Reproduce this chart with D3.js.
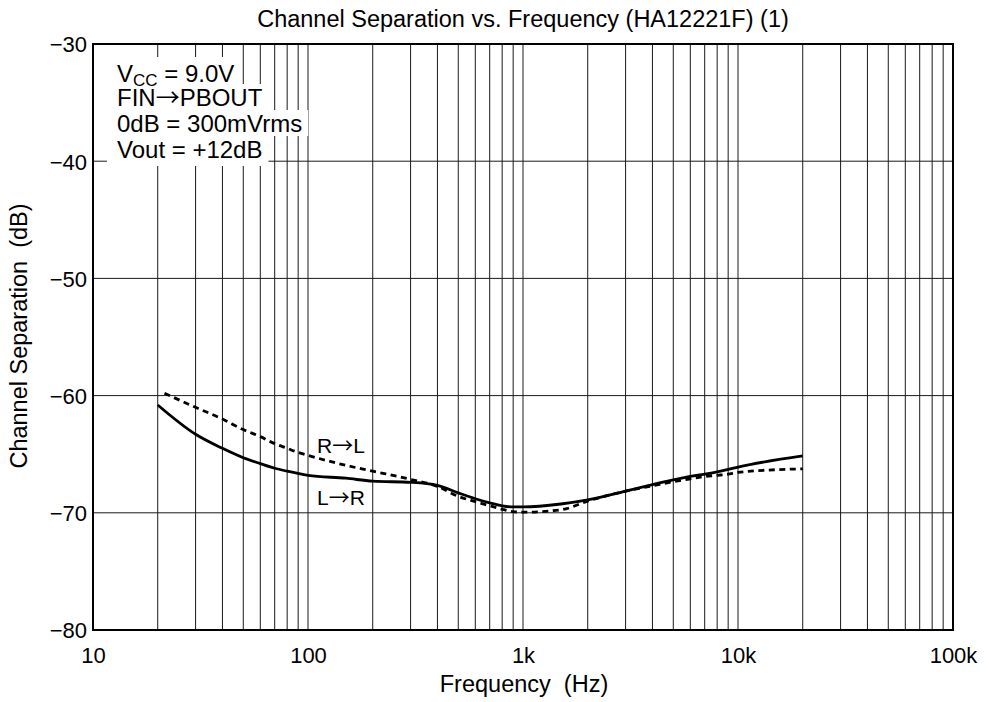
<!DOCTYPE html>
<html>
<head>
<meta charset="utf-8">
<script src="https://cdn.jsdelivr.net/npm/d3@7"></script>
<style>
  html, body { margin: 0; padding: 0; background: #fff; }
  svg { display: block; font-family: "Liberation Sans", Arial, Helvetica, sans-serif; }
  text { white-space: pre; }
  .arrow { font-family: "Noto Sans CJK JP", "DejaVu Sans", sans-serif; }
</style>
</head>
<body>
<svg id="chart" width="989" height="702"></svg>
<script>
// ---- data ----
const lrFreq = [20, 30, 40, 50, 60, 70, 80, 100, 150, 200, 300, 400, 500, 600, 700, 800, 900, 1000, 1500, 2000, 3000, 4000, 5000, 6000, 7000, 8000, 9000, 10000, 20000];
const lrValues = [-60.8, -63.3, -64.5, -65.3, -65.8, -66.2, -66.45, -66.8, -67.05, -67.3, -67.4, -67.65, -68.3, -68.8, -69.15, -69.4, -69.5, -69.5, -69.25, -68.9, -68.15, -67.6, -67.2, -66.9, -66.7, -66.5, -66.3, -66.1, -65.15];
const rlFreq = [21.5, 30, 40, 50, 60, 70, 80, 90, 100, 150, 200, 300, 400, 500, 600, 700, 800, 900, 1000, 1500, 2000, 3000, 4000, 5000, 6000, 7000, 8000, 9000, 10000, 20000];
const rlValues = [-59.8, -61.0, -62.0, -62.9, -63.5, -64.1, -64.5, -64.85, -65.1, -65.95, -66.45, -67.15, -67.75, -68.6, -69.05, -69.4, -69.7, -69.9, -69.95, -69.75, -69.0, -68.15, -67.7, -67.35, -67.1, -66.9, -66.8, -66.7, -66.55, -66.25];
const xTickValues = [10, 100, 1000, 10000, 100000];
const xTickLabels = ["10", "100", "1k", "10k", "100k"];
const yTickValues = [-30, -40, -50, -60, -70, -80];
const titleText = "Channel Separation vs. Frequency (HA12221F) (1)";
const xLabel = "Frequency  (Hz)";
const yLabel = "Channel Separation  (dB)";

// ---- layout ----
const L = 93, R = 953, T = 44, B = 630;
const svg = d3.select("#chart");
const x = d3.scaleLog().domain([10, 100000]).range([L, R]);
const y = d3.scaleLinear().domain([-80, -30]).range([B, T]);

// minor + major vertical grid
const vgrid = [];
for (let d = 10; d < 100000; d *= 10) for (let k = 1; k <= 9; k++) if (!(k === 1 && d === 10)) vgrid.push(d * k);
svg.append("g").selectAll("line").data(vgrid).join("line")
  .attr("x1", d => x(d)).attr("x2", d => x(d)).attr("y1", T).attr("y2", B)
  .attr("stroke", "#1a1a1a").attr("stroke-width", 1);
svg.append("g").selectAll("line").data(yTickValues.slice(1, -1)).join("line")
  .attr("x1", L).attr("x2", R).attr("y1", d => y(d)).attr("y2", d => y(d))
  .attr("stroke", "#1a1a1a").attr("stroke-width", 1);

// condition text block with white backgrounds
const condG = svg.append("g");
const baselines = [82, 106, 132, 158];
const rowTops = [57, 84, 110, 136];
const rowBottoms = [84, 110, 136, 166];
const texts = [];
for (let i = 0; i < 4; i++) {
  texts.push(condG.append("text").attr("x", 117).attr("y", baselines[i]).attr("font-size", 24).attr("fill", "#000"));
}
texts[0].append("tspan").text("V");
texts[0].append("tspan").text("CC").attr("font-size", 17).attr("dy", 4);
texts[0].append("tspan").text(" = 9.0V").attr("dy", -4);
texts[1].append("tspan").text("FIN");
texts[1].append("tspan").attr("class", "arrow").text("\u2192");
texts[1].append("tspan").text("PBOUT");
texts[2].text("0dB = 300mVrms");
texts[3].text("Vout = +12dB");
texts.forEach((t, i) => {
  const bb = t.node().getBBox();
  condG.insert("rect", "text").attr("x", 107).attr("y", rowTops[i])
    .attr("width", bb.x + bb.width + 6 - 107).attr("height", rowBottoms[i] - rowTops[i]).attr("fill", "#fff");
});

// curves
const line = d3.line().x(d => x(d[0])).y(d => y(d[1])).curve(d3.curveMonotoneX);
svg.append("path").datum(lrFreq.map((f, i) => [f, lrValues[i]]))
  .attr("d", line).attr("fill", "none").attr("stroke", "#000").attr("stroke-width", 2.8);
svg.append("path").datum(rlFreq.map((f, i) => [f, rlValues[i]]))
  .attr("d", line).attr("fill", "none").attr("stroke", "#000").attr("stroke-width", 2.8)
  .attr("stroke-dasharray", "6,4.5");

// curve labels
function arrowLabel(a, b, xx, yy) {
  const t = svg.append("text").attr("x", xx).attr("y", yy).attr("font-size", 21);
  t.append("tspan").text(a);
  t.append("tspan").attr("class", "arrow").text("\u2192");
  t.append("tspan").text(b);
}
arrowLabel("R", "L", 317, 453);
arrowLabel("L", "R", 317, 505);

// frame
svg.append("rect").attr("x", L).attr("y", T).attr("width", R - L).attr("height", B - T)
  .attr("fill", "none").attr("stroke", "#000").attr("stroke-width", 2);

// axes labels via d3 axes (no tick lines)
const xAxis = d3.axisBottom(x).tickValues(xTickValues).tickFormat((d, i) => xTickLabels[i]).tickSize(0).tickPadding(0);
const gx = svg.append("g").attr("transform", `translate(0,${B})`).call(xAxis);
gx.select(".domain").remove();
gx.selectAll("text").attr("font-size", 22).attr("fill", "#000").attr("font-family", null)
  .attr("dy", null).attr("y", 33);

const yAxis = d3.axisLeft(y).tickValues(yTickValues).tickFormat(d => "\u2212" + Math.abs(d)).tickSize(0).tickPadding(0);
const gy = svg.append("g").attr("transform", `translate(${L - 6},0)`).call(yAxis);
gy.select(".domain").remove();
gy.selectAll("text").attr("font-size", 22).attr("fill", "#000").attr("font-family", null)
  .attr("dy", "0.36em").attr("x", 0);

// titles
svg.append("text").attr("x", 523).attr("y", 27).attr("text-anchor", "middle").attr("font-size", 23.5).text(titleText);
svg.append("text").attr("x", 524).attr("y", 692).attr("text-anchor", "middle").attr("font-size", 23.5).text(xLabel);
svg.append("text").attr("transform", "translate(27,336) rotate(-90)").attr("text-anchor", "middle").attr("font-size", 23.5).text(yLabel);
</script>
</body>
</html>
